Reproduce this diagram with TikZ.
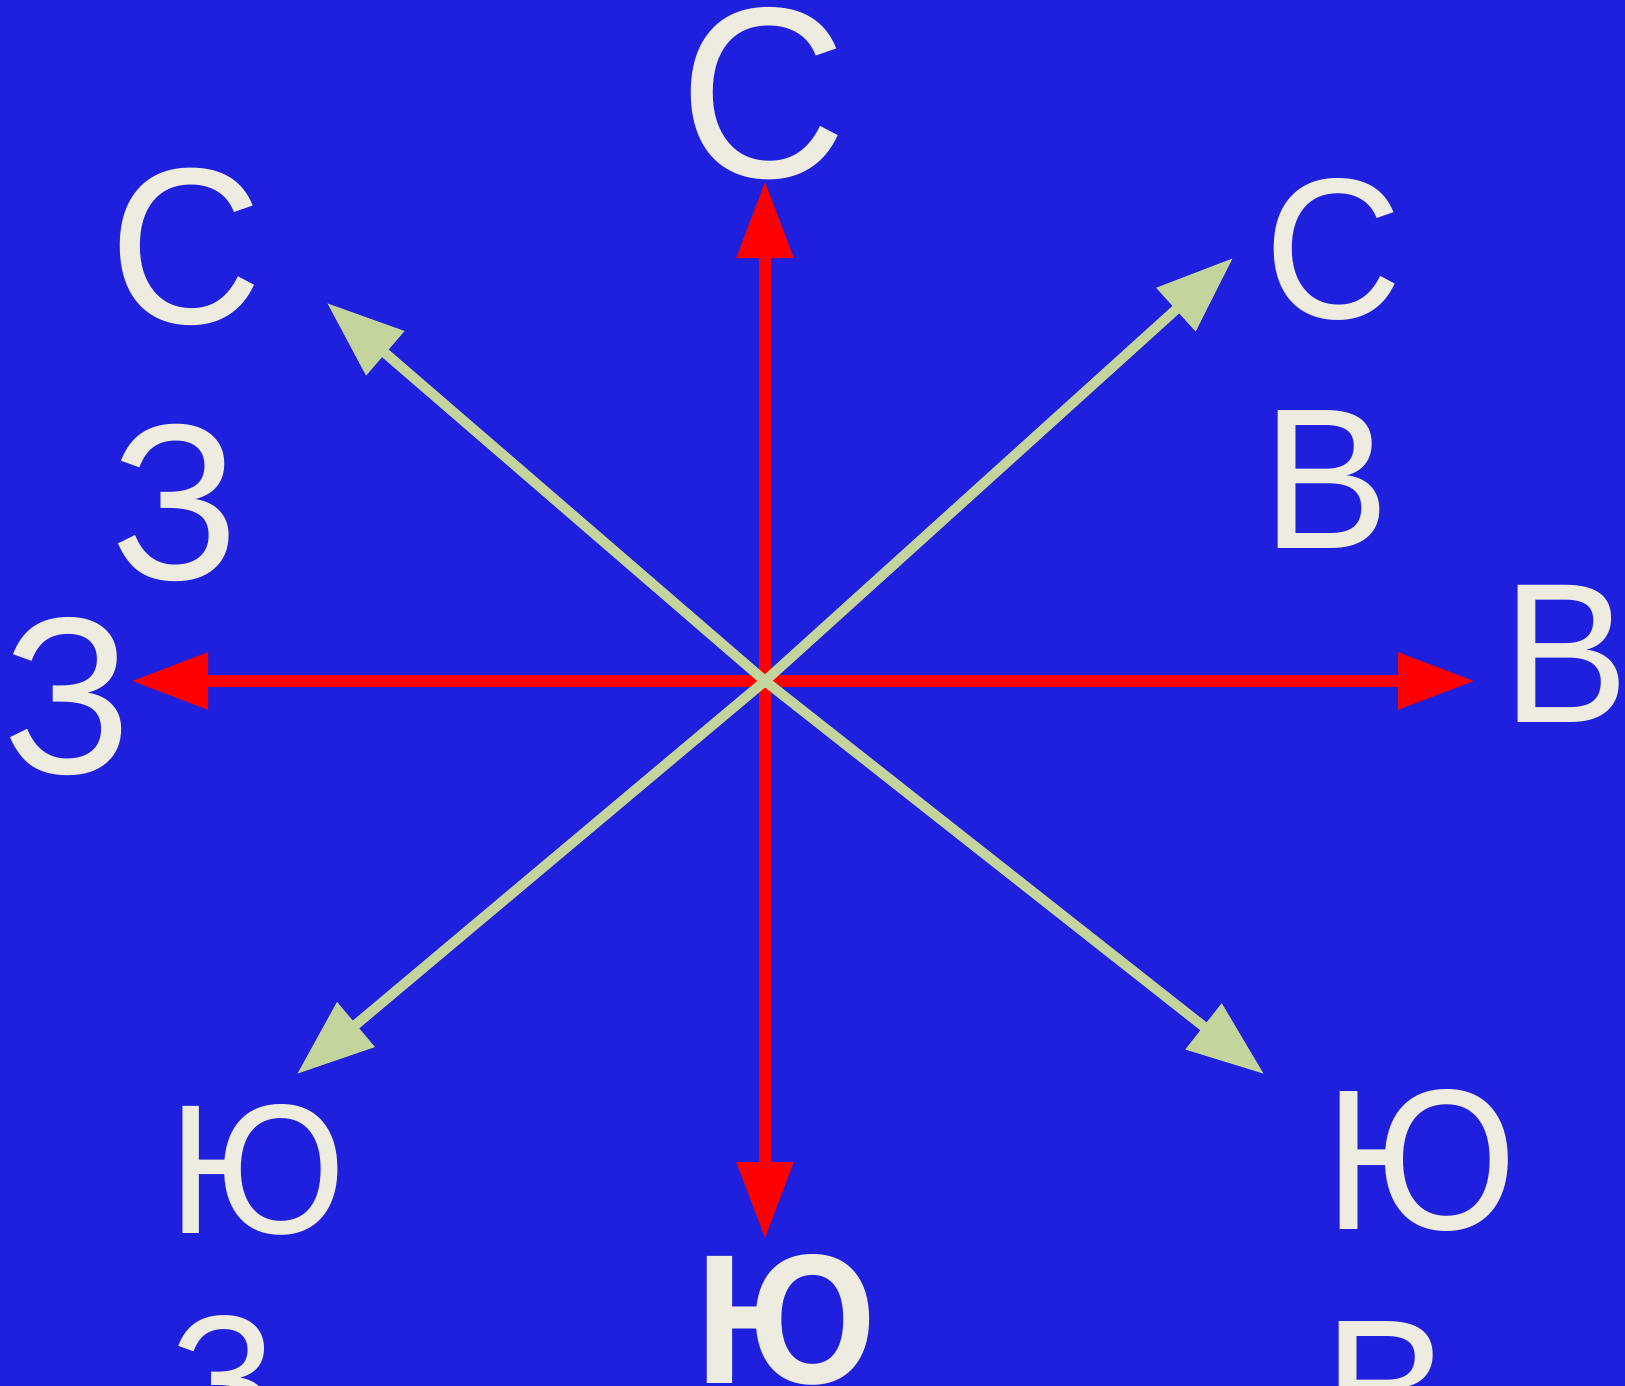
\documentclass[tikz,border=0pt]{standalone}
\usepackage{fontspec}
\usepackage{graphicx}
\setmainfont{Liberation Sans}
\usetikzlibrary{arrows.meta}
\definecolor{bgblue}{RGB}{30,32,221}
\definecolor{redarr}{RGB}{255,0,0}
\definecolor{greenarr}{RGB}{195,213,157}
\definecolor{txtcol}{RGB}{238,236,225}
\newcommand{\vstretchtxt}[1]{\scalebox{1}[1.05]{#1}}
\begin{document}
\begin{tikzpicture}[x=1pt,y=-1pt,
  redaxis/.style={draw=redarr, line width=12pt, -{Triangle[length=77pt,width=54pt]}},
  greenaxis/.style={draw=greenarr, line width=10pt, -{Triangle[length=77pt,width=56pt]}},
  lbl/.style={anchor=base west, inner sep=0pt, outer sep=0pt, text=txtcol}]
\fill[bgblue] (0,0) rectangle (1625,1386);
\useasboundingbox (0,0) rectangle (1625,1386);
\clip (0,0) rectangle (1625,1386);
% centre and arrow tips
\coordinate (O) at (765,681);
\coordinate (tN) at (765,181);
\coordinate (tS) at (765,1239);
\coordinate (tE) at (1475,681);
\coordinate (tW) at (131,681);
\coordinate (tNW) at (327,303);
\coordinate (tNE) at (1233,258);
\coordinate (tSW) at (297,1074);
\coordinate (tSE) at (1264,1074);
% red axes
\draw[redaxis] (O) -- (tN);
\draw[redaxis] (O) -- (tS);
\draw[redaxis] (O) -- (tE);
\draw[redaxis] (O) -- (tW);
% green diagonals
\draw[greenaxis] (O) -- (tNW);
\draw[greenaxis] (O) -- (tNE);
\draw[greenaxis] (O) -- (tSW);
\draw[greenaxis] (O) -- (tSE);
% labels
\node[lbl, font=\fontsize{232}{278}\selectfont] (lN) at (679,178) {\vstretchtxt{С}};
\node[lbl, font=\fontsize{212}{254}\selectfont] (lNW1) at (109,323) {\vstretchtxt{С}};
\node[lbl, font=\fontsize{212}{254}\selectfont] (lNW2) at (111,579) {\vstretchtxt{З}};
\node[lbl, font=\fontsize{191}{230}\selectfont] (lNE1) at (1264,318) {\vstretchtxt{С}};
\node[lbl, font=\fontsize{191}{230}\selectfont] (lNE2) at (1262,548) {\vstretchtxt{В}};
\node[lbl, font=\fontsize{190}{228}\selectfont] (lE) at (1502,722) {\vstretchtxt{В}};
\node[lbl, font=\fontsize{213}{253}\selectfont] (lW) at (4,773) {\vstretchtxt{З}};
\node[lbl, font=\fontsize{176}{211}\selectfont] (lSW1) at (168,1233) {\vstretchtxt{Ю}};
\node[lbl, font=\fontsize{176}{211}\selectfont] (lSW2) at (170,1444) {\vstretchtxt{З}};
\node[lbl, font=\fontsize{191}{230}\selectfont] (lSE1) at (1324,1229) {\vstretchtxt{Ю}};
\node[lbl, font=\fontsize{191}{230}\selectfont] (lSE2) at (1323,1459) {\vstretchtxt{В}};
\node[lbl, font=\bfseries\fontsize{176}{211}\selectfont] (lS) at (695,1383) {\vstretchtxt{Ю}};
\end{tikzpicture}
\end{document}
